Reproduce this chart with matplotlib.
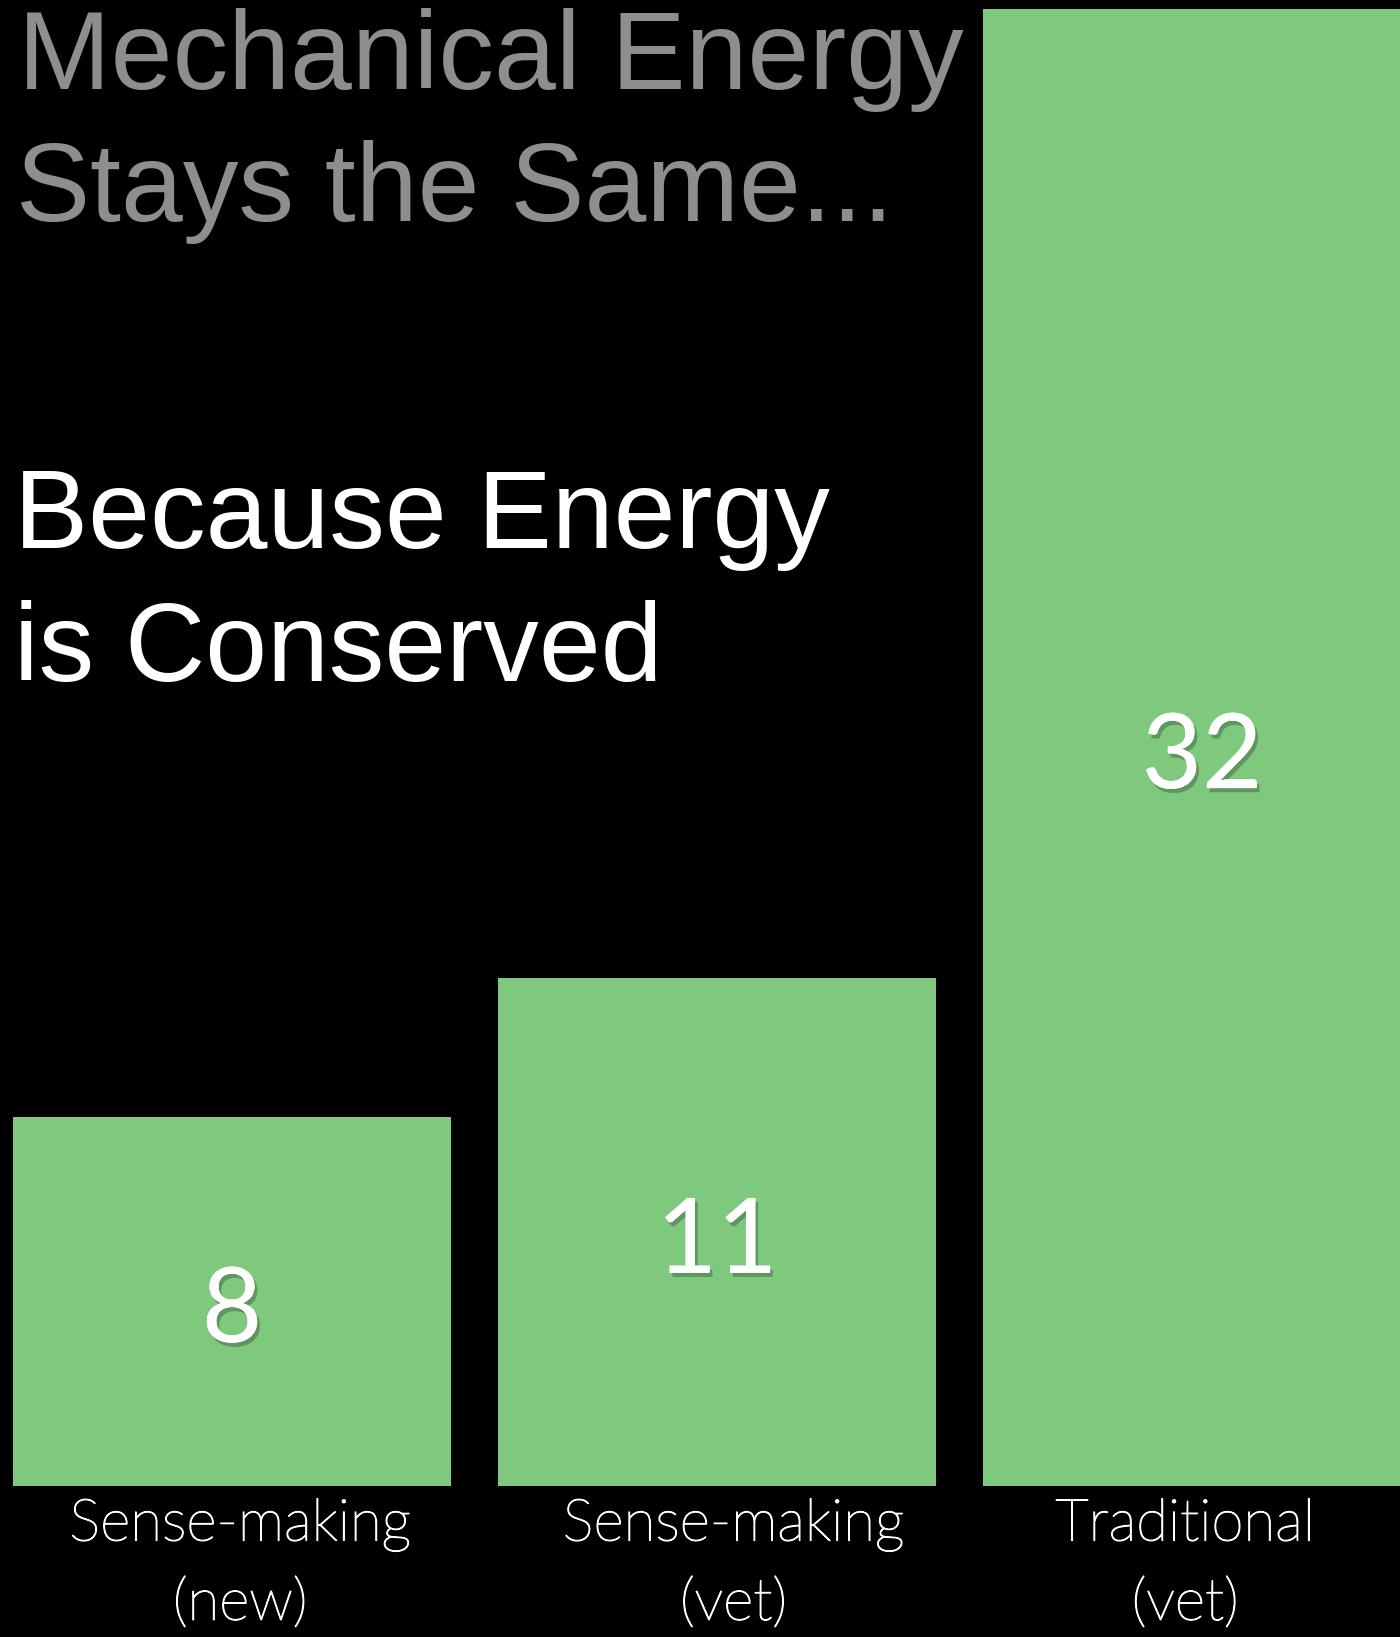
import matplotlib
matplotlib.use("Agg")
import matplotlib.pyplot as plt
import matplotlib.patheffects as pe

categories = ['Sense-making\n(new)', 'Sense-making\n(vet)', 'Traditional\n(vet)']
values = [8, 11, 32]
value_labels = ['8', '11', '32']
title_lines = ['Mechanical Energy', 'Stays the Same...']
subtitle_lines = ['Because Energy', 'is Conserved']

W, H = 1400, 1637
fig = plt.figure(figsize=(W / 100, H / 100), dpi=100, facecolor='black')

# axes fill the whole width, bottom sits where the bars start
bottom_px = 1486
ax = fig.add_axes([0, 1 - bottom_px / H, 1, bottom_px / H])
ax.set_facecolor('black')

pitch = 485.0
x0 = 232.0
ax.set_xlim(-x0 / pitch, (W - x0) / pitch)
ax.set_ylim(0, 32 * bottom_px / (bottom_px - 9))

pos = list(range(len(values)))
ax.bar(pos, values, width=438 / pitch, color='#7fc97f', edgecolor='none')

shadow = [pe.withSimplePatchShadow(offset=(2, -3), shadow_rgbFace='black', alpha=0.25),
          pe.Normal()]
for p, v, lab in zip(pos, values, value_labels):
    ax.annotate(lab, (p, v / 2), xytext=(0, -8), textcoords='offset points',
                ha='center', va='center', color='white',
                fontsize=75, family='Lato', path_effects=shadow)

# category labels under the bars (slight nudges like the slide)
label_nudge = [6, 12, -12]
thicken = [pe.withStroke(linewidth=0.9, foreground='white')]
for p, cat, dx in zip(pos, categories, label_nudge):
    ax.annotate(cat, (p, 0), xytext=(dx, -9), textcoords='offset points',
                ha='center', va='top', color='white', fontsize=42,
                family='Lato', fontweight='light', linespacing=1.65,
                path_effects=thicken, annotation_clip=False)

ax.set_xticks([])
ax.set_yticks([])
for s in ax.spines.values():
    s.set_visible(False)

def fx(px):
    return px / W

def fy(px):
    return 1 - px / H

title_font = 'Liberation Sans'
fig.text(fx(18), fy(89), title_lines[0], color='#8e8e8e', fontsize=80,
         family=title_font, va='baseline')
fig.text(fx(16), fy(221), title_lines[1], color='#8e8e8e', fontsize=80,
         family=title_font, va='baseline')
fig.text(fx(14), fy(548), subtitle_lines[0], color='white', fontsize=80,
         family=title_font, va='baseline')
fig.text(fx(14), fy(681), subtitle_lines[1], color='white', fontsize=80,
         family=title_font, va='baseline')

fig.savefig('out.png', dpi=100, facecolor='black')
